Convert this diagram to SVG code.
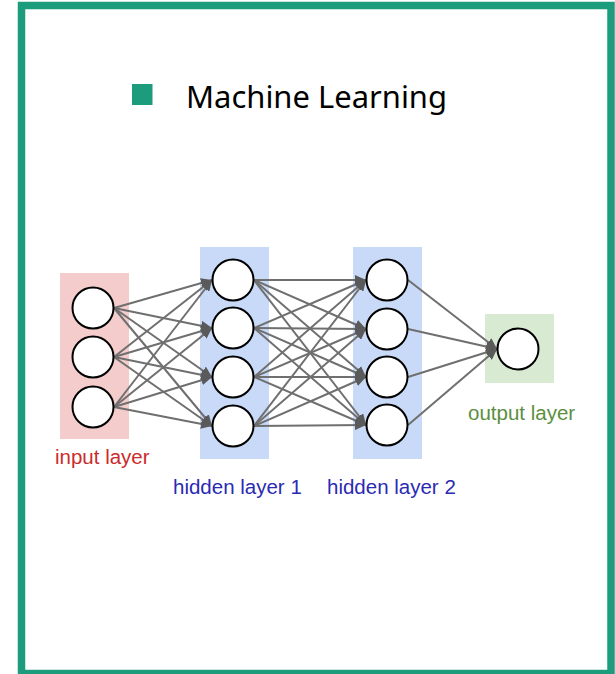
<svg xmlns="http://www.w3.org/2000/svg" width="615" height="674" viewBox="0 0 615 674">
  <style>
    .frame { fill: #ffffff; stroke: #1c9c7c; stroke-width: 7.5; }
    .bullet { fill: #1c9c7c; }
    .title { font-family: "Noto Sans", "Open Sans", sans-serif; font-size: 31px; fill: #000000; }
    .band-in { fill: #f4cccc; }
    .band-hid { fill: #c9daf8; }
    .band-out { fill: #d9ead3; }
    .neuron { fill: #ffffff; stroke: #000000; stroke-width: 2; }
    .edge { stroke: #6f6f6f; stroke-width: 2; fill: none; marker-end: url(#head); }
    .lbl { font-family: "Liberation Sans", Arial, sans-serif; font-size: 20.5px; }
    .lbl-in { fill: #cc2b2b; }
    .lbl-hid { fill: #2a2ab3; }
    .lbl-out { fill: #5b8f3f; }
  </style>
  <defs>
    <marker id="head" markerUnits="userSpaceOnUse" markerWidth="12" markerHeight="10" refX="11" refY="5" orient="auto">
      <path d="M0,0 L11,5 L0,10 z" fill="#5a5a5a"/>
    </marker>
  </defs>

  <!-- outer frame -->
  <rect class="frame" x="21.5" y="5.5" width="589.5" height="668"/>

  <!-- heading -->
  <g id="heading">
    <rect class="bullet" x="132" y="84" width="20.5" height="21"/>
    <text class="title" x="186" y="108" textLength="261" lengthAdjust="spacingAndGlyphs">Machine Learning</text>
  </g>

  <!-- layer bands -->
  <g id="bands">
    <rect class="band-in" x="60" y="273" width="69" height="166"/>
    <rect class="band-hid" x="200" y="247" width="69" height="212"/>
    <rect class="band-hid" x="353" y="247" width="69" height="212"/>
    <rect class="band-out" x="485" y="314" width="69" height="69"/>
  </g>

  <!-- connections -->
  <g id="connectors">
    <!-- input -> hidden 1 -->
    <line class="edge" x1="114" y1="308" x2="212" y2="280"/>
    <line class="edge" x1="114" y1="308" x2="212" y2="328"/>
    <line class="edge" x1="114" y1="308" x2="212" y2="377"/>
    <line class="edge" x1="114" y1="308" x2="212" y2="426"/>
    <line class="edge" x1="114" y1="357" x2="212" y2="280"/>
    <line class="edge" x1="114" y1="357" x2="212" y2="328"/>
    <line class="edge" x1="114" y1="357" x2="212" y2="377"/>
    <line class="edge" x1="114" y1="357" x2="212" y2="426"/>
    <line class="edge" x1="114" y1="407" x2="212" y2="280"/>
    <line class="edge" x1="114" y1="407" x2="212" y2="328"/>
    <line class="edge" x1="114" y1="407" x2="212" y2="377"/>
    <line class="edge" x1="114" y1="407" x2="212" y2="426"/>
    <!-- hidden 1 -> hidden 2 -->
    <line class="edge" x1="254" y1="280" x2="366" y2="280"/>
    <line class="edge" x1="254" y1="280" x2="366" y2="329"/>
    <line class="edge" x1="254" y1="280" x2="366" y2="377"/>
    <line class="edge" x1="254" y1="280" x2="366" y2="425"/>
    <line class="edge" x1="254" y1="328" x2="366" y2="280"/>
    <line class="edge" x1="254" y1="328" x2="366" y2="329"/>
    <line class="edge" x1="254" y1="328" x2="366" y2="377"/>
    <line class="edge" x1="254" y1="328" x2="366" y2="425"/>
    <line class="edge" x1="254" y1="377" x2="366" y2="280"/>
    <line class="edge" x1="254" y1="377" x2="366" y2="329"/>
    <line class="edge" x1="254" y1="377" x2="366" y2="377"/>
    <line class="edge" x1="254" y1="377" x2="366" y2="425"/>
    <line class="edge" x1="254" y1="426" x2="366" y2="280"/>
    <line class="edge" x1="254" y1="426" x2="366" y2="329"/>
    <line class="edge" x1="254" y1="426" x2="366" y2="377"/>
    <line class="edge" x1="254" y1="426" x2="366" y2="425"/>
    <!-- hidden 2 -> output -->
    <line class="edge" x1="408" y1="280" x2="497" y2="349"/>
    <line class="edge" x1="408" y1="329" x2="497" y2="349"/>
    <line class="edge" x1="408" y1="377" x2="497" y2="349"/>
    <line class="edge" x1="408" y1="425" x2="497" y2="349"/>
  </g>

  <!-- neurons -->
  <g id="in-1"><circle class="neuron" cx="93" cy="308" r="20.5"/></g>
  <g id="in-2"><circle class="neuron" cx="93" cy="357" r="20.5"/></g>
  <g id="in-3"><circle class="neuron" cx="93" cy="407" r="20.5"/></g>

  <g id="h1-1"><circle class="neuron" cx="233" cy="280" r="20.5"/></g>
  <g id="h1-2"><circle class="neuron" cx="233" cy="328" r="20.5"/></g>
  <g id="h1-3"><circle class="neuron" cx="233" cy="377" r="20.5"/></g>
  <g id="h1-4"><circle class="neuron" cx="233" cy="426" r="20.5"/></g>

  <g id="h2-1"><circle class="neuron" cx="387" cy="280" r="20.5"/></g>
  <g id="h2-2"><circle class="neuron" cx="387" cy="329" r="20.5"/></g>
  <g id="h2-3"><circle class="neuron" cx="387" cy="377" r="20.5"/></g>
  <g id="h2-4"><circle class="neuron" cx="387" cy="425" r="20.5"/></g>

  <g id="out-1"><circle class="neuron" cx="518" cy="349" r="20.5"/></g>

  <!-- layer captions -->
  <g id="captions">
    <text class="lbl lbl-in" x="55" y="464">input layer</text>
    <text class="lbl lbl-hid" x="173" y="494">hidden layer 1</text>
    <text class="lbl lbl-hid" x="327" y="494">hidden layer 2</text>
    <text class="lbl lbl-out" x="468" y="420">output layer</text>
  </g>
</svg>
